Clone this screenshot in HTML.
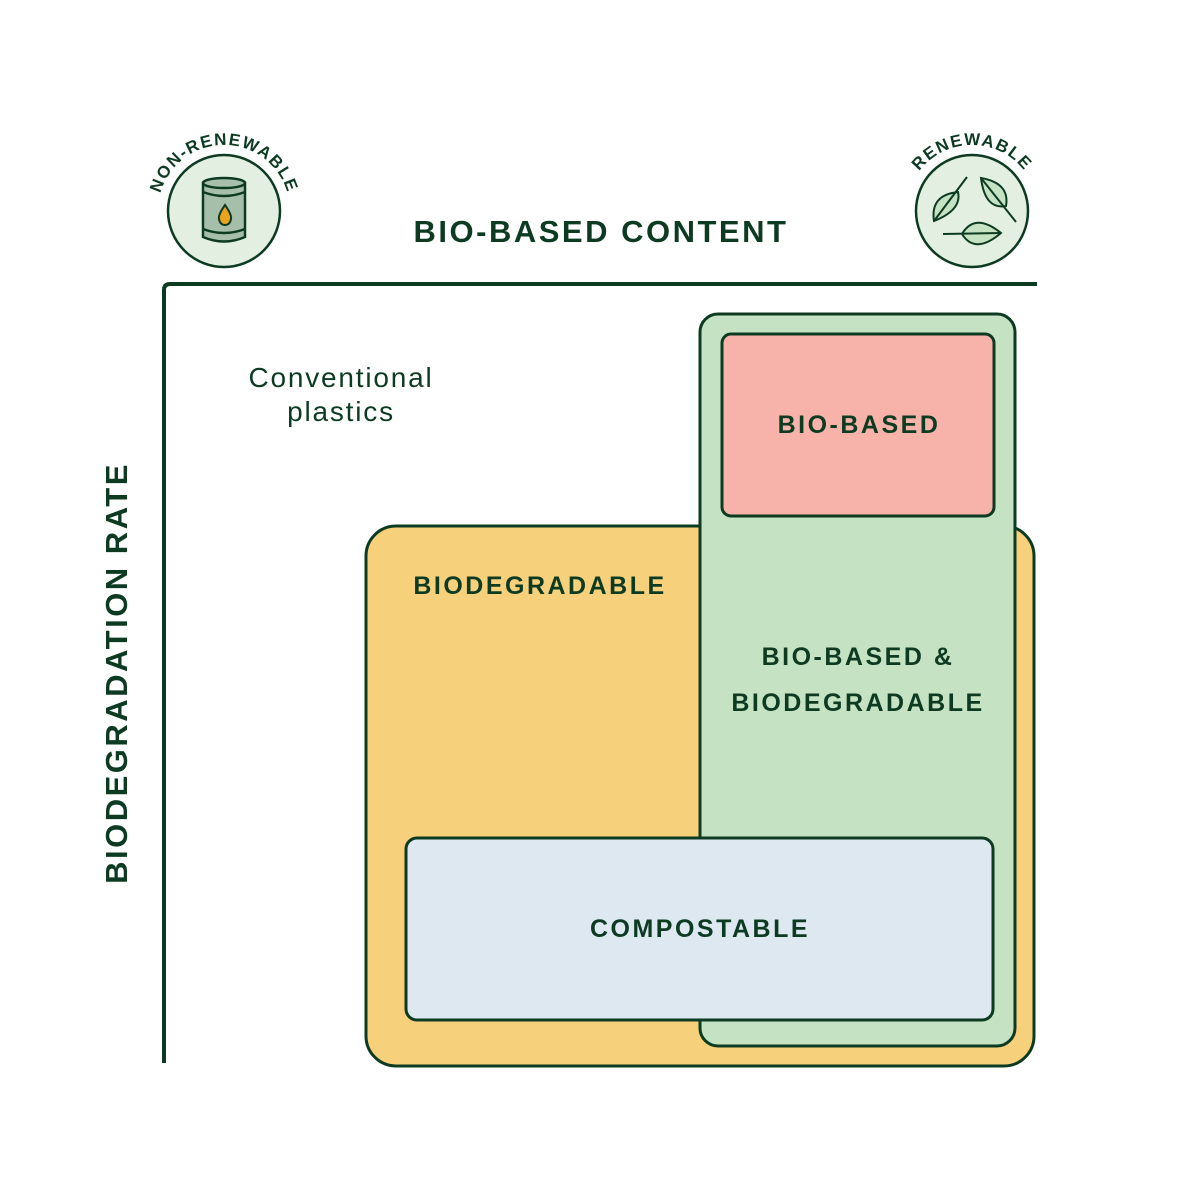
<!DOCTYPE html>
<html><head><meta charset="utf-8"><style>
html,body{margin:0;padding:0;background:#fff;}
svg{display:block;}
text{font-family:"Liberation Sans",sans-serif;fill:#0d3b22;}
.b{font-weight:bold;letter-spacing:2.5px;}
</style></head><body>
<svg width="1200" height="1200" viewBox="0 0 1200 1200" xmlns="http://www.w3.org/2000/svg">
<defs>
<path id="arcL" d="M158,211 A66,66 0 0 1 290,211"/>
<path id="arcR" d="M906,211 A66,66 0 0 1 1038,211"/>
</defs>
<path d="M164,1063 L164,290 Q164,284 170,284 L1037,284" fill="none" stroke="#0d3b22" stroke-width="4"/>
<circle cx="224" cy="211" r="56" fill="#e3efe0" stroke="#0d3b22" stroke-width="2.5"/>
<path d="M203,183 L203,237 Q224,246 245,237 L245,183 Z" fill="#a6bfaa" stroke="#0d3b22" stroke-width="2.5"/>
<ellipse cx="224" cy="183" rx="21" ry="5" fill="#a6bfaa" stroke="#0d3b22" stroke-width="2.5"/>
<path d="M203,192 Q224,200 245,192 M203,229 Q224,237 245,229" fill="none" stroke="#0d3b22" stroke-width="2.5"/>
<path d="M225,205 Q218,215 219,219 Q220,225 225,225 Q230,225 231,219 Q232,215 225,205 Z" fill="#e8a41f" stroke="#0d3b22" stroke-width="2"/>
<text font-size="17" font-weight="bold" letter-spacing="1.5"><textPath href="#arcL" startOffset="50%" text-anchor="middle">NON-RENEWABLE</textPath></text>
<circle cx="972" cy="211" r="56" fill="#e3efe0" stroke="#0d3b22" stroke-width="2.5"/>
<g fill="#c5e2c2" stroke="#0d3b22" stroke-width="2">
<path d="M934,221 Q930,195 958,192 Q962,210 934,221 Z"/>
<path d="M934,221 L967,177"/>
<path d="M981,178 Q1010,183 1006,206 Q985,210 981,178 Z"/>
<path d="M981,178 L1016,222"/>
<path d="M962,234 Q975,212 1001,233 Q975,255 962,234 Z"/>
<path d="M943,234 L1001,233"/>
</g>
<text font-size="17" font-weight="bold" letter-spacing="1.5"><textPath href="#arcR" startOffset="50%" text-anchor="middle">RENEWABLE</textPath></text>
<text class="b" x="601" y="242" font-size="31" text-anchor="middle" letter-spacing="4.5">BIO-BASED CONTENT</text>
<text class="b" transform="translate(127,673) rotate(-90)" font-size="31" text-anchor="middle" letter-spacing="4.5">BIODEGRADATION RATE</text>
<text x="341" y="387" font-size="28" text-anchor="middle" letter-spacing="1.8">Conventional</text>
<text x="341" y="421" font-size="28" text-anchor="middle" letter-spacing="1.8">plastics</text>
<rect x="366" y="526" width="668" height="540" rx="30" fill="#f7d07c" stroke="#0d3b22" stroke-width="3"/>
<rect x="700" y="314" width="315" height="732" rx="18" fill="#c5e2c2" stroke="#0d3b22" stroke-width="3"/>
<rect x="722" y="334" width="272" height="182" rx="9" fill="#f7b2aa" stroke="#0d3b22" stroke-width="3"/>
<rect x="406" y="838" width="587" height="182" rx="11" fill="#dde8f1" stroke="#0d3b22" stroke-width="3"/>
<text class="b" x="859" y="433" font-size="25" text-anchor="middle">BIO-BASED</text>
<text class="b" x="540" y="594" font-size="25" text-anchor="middle">BIODEGRADABLE</text>
<text class="b" x="858" y="665" font-size="25" text-anchor="middle">BIO-BASED &amp;</text>
<text class="b" x="858" y="711" font-size="25" text-anchor="middle">BIODEGRADABLE</text>
<text class="b" x="700" y="937" font-size="25" text-anchor="middle">COMPOSTABLE</text>
</svg>
</body></html>
